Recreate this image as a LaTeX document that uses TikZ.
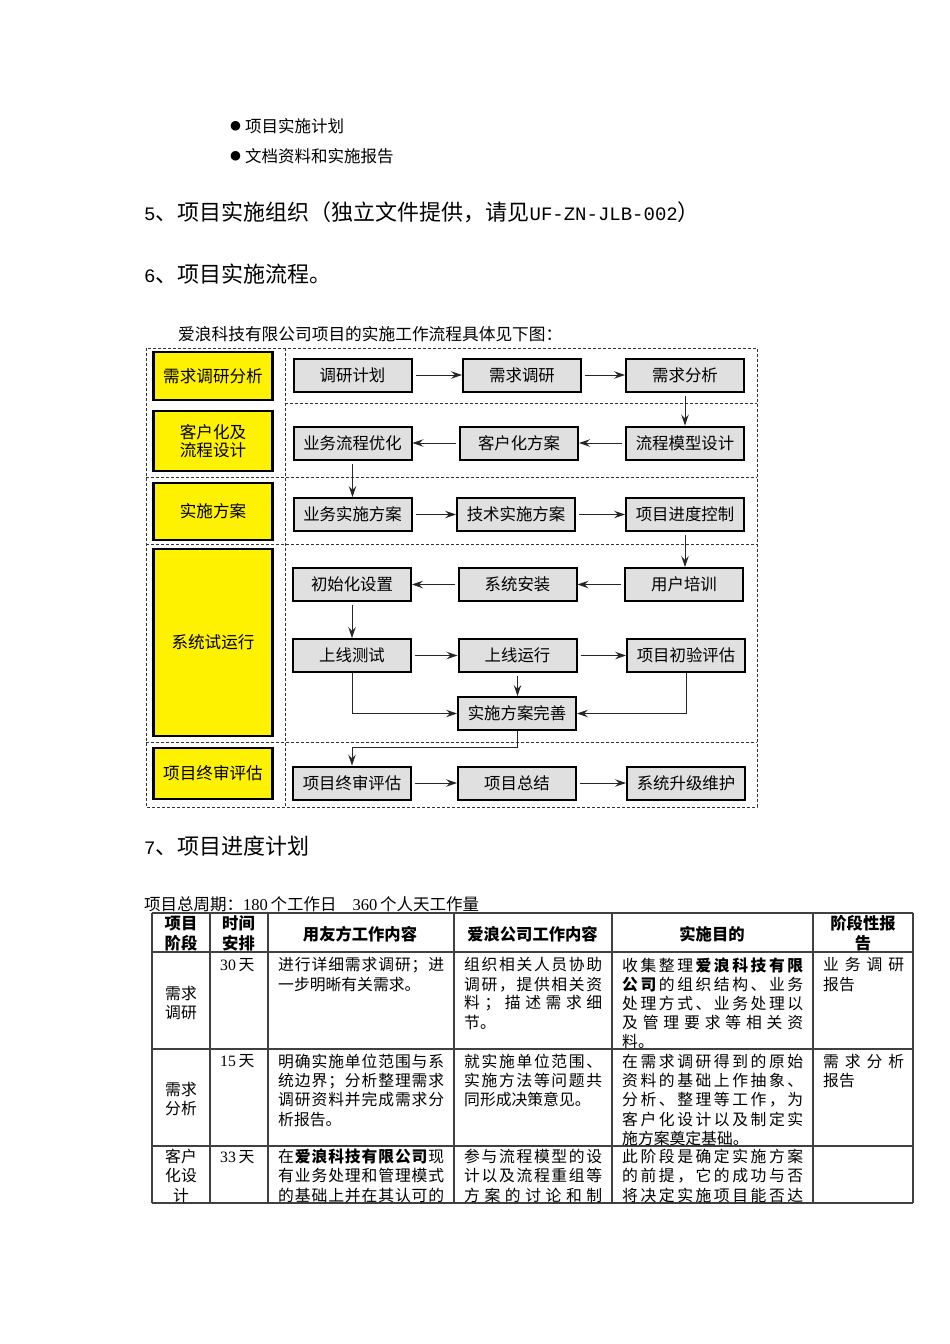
\documentclass[tikz,border=0pt]{standalone}
\usepackage{fontspec}
\setmainfont{Noto Sans CJK SC}
\newfontfamily\lmono{Liberation Mono}
\newfontfamily\lser{Liberation Serif}
\newfontfamily\djv{DejaVu Sans}
\usetikzlibrary{arrows.meta}
\newcommand\fsz[1]{\fontsize{#1}{#1}\selectfont}
\ExplSyntaxOn
\NewDocumentCommand\jl{mm}{\makebox[#1][s]{\tl_map_inline:nn{#2}{{##1}\hfil}\unskip}}
\ExplSyntaxOff
\tikzset{
  ybox/.style={draw=black,line width=2.4pt,fill=yellow,minimum width=119pt,inner sep=0pt,align=center,font=\fontsize{16.6}{17.5}\selectfont},
  gbox/.style={draw=black,line width=2pt,fill=black!12,minimum width=118pt,minimum height=33pt,inner sep=0pt,font=\fsz{16.4}},
  arr/.style={-{Stealth[length=11pt,width=7.5pt,inset=4pt]},line width=0.9pt,draw=black!85,shorten <=3pt},
  dline/.style={draw=black!80,line width=1pt,dash pattern=on 3pt off 2pt},
  tline/.style={draw=black!75,line width=1.3pt},
  txt/.style={anchor=west,inner sep=0pt},
  cell/.style={anchor=west,inner sep=0pt,font=\fsz{15.8}},
  ccell/.style={inner sep=0pt,font=\fsz{15.8}},
  hd/.style={inner sep=0pt,font=\fsz{16.3}\bfseries},
}
\begin{document}
\begin{tikzpicture}[x=1pt,y=-1pt]
\useasboundingbox (0,0) rectangle (950,1344);
\fill[white] (0,0) rectangle (950,1344);

% ---------- top text ----------
\node[txt,font=\djv\fsz{12.5}] (bul1) at (230,126) {●};
\node[txt,font=\fsz{16.5}] (item1) at (245,126) {项目实施计划};
\node[txt,font=\djv\fsz{12.5}] (bul2) at (230,156) {●};
\node[txt,font=\fsz{16.5}] (item2) at (245,156) {文档资料和实施报告};
\node[txt,font=\fsz{22}] (head5) at (144,212) {{\lmono\fsz{19}5}、项目实施组织（独立文件提供，请见{\lmono\fsz{19}UF-ZN-JLB-002}）};
\node[txt,font=\fsz{22}] (head6) at (144,274) {{\lmono\fsz{19}6}、项目实施流程。};
\node[txt,font=\fsz{16.7}] (intro) at (178,334) {爱浪科技有限公司项目的实施工作流程具体见下图：};

% ---------- flow chart frame ----------
\draw[dline] (146,348) rectangle (757,807);
\draw[dline] (285,348) -- (285,807);
\draw[dline] (285,403) -- (757,403);
\draw[dline] (146,477) -- (757,477);
\draw[dline] (146,544) -- (757,544);
\draw[dline] (146,742) -- (757,742);

% ---------- stage boxes ----------
\node[ybox,minimum height=48pt] (y1) at (213,376) {需求调研分析};
\node[ybox,minimum height=60pt] (y2) at (213,441) {客户化及\\流程设计};
\node[ybox,minimum height=57pt] (y3) at (213,511.5) {实施方案};
\node[ybox,minimum height=187pt] (y4) at (213,642.5) {系统试运行};
\node[ybox,minimum height=51pt] (y5) at (213,773.5) {项目终审评估};

% ---------- process boxes ----------
\node[gbox] (r1a) at (352.5,375) {调研计划};
\node[gbox] (r1b) at (522,375) {需求调研};
\node[gbox] (r1c) at (685,375) {需求分析};
\node[gbox] (r2a) at (352.5,443) {业务流程优化};
\node[gbox] (r2b) at (519,443) {客户化方案};
\node[gbox] (r2c) at (685,443) {流程模型设计};
\node[gbox] (r3a) at (352.5,514.5) {业务实施方案};
\node[gbox] (r3b) at (516,514.5) {技术实施方案};
\node[gbox] (r3c) at (685,514.5) {项目进度控制};
\node[gbox] (r4a) at (352,584.5) {初始化设置};
\node[gbox] (r4b) at (517.5,584.5) {系统安装};
\node[gbox] (r4c) at (684,584.5) {用户培训};
\node[gbox] (r5a) at (352,655.5) {上线测试};
\node[gbox] (r5b) at (517.5,655.5) {上线运行};
\node[gbox] (r5c) at (686,655.5) {项目初验评估};
\node[gbox] (r6) at (517,713.5) {实施方案完善};
\node[gbox] (r7a) at (352,783) {项目终审评估};
\node[gbox] (r7b) at (517,783) {项目总结};
\node[gbox] (r7c) at (686,783) {系统升级维护};
\coordinate (k) at (352,747);

% ---------- connectors ----------
\draw[arr] (r1a) -- (r1b);
\draw[arr] (r1b) -- (r1c);
\draw[arr] (r1c.south) -- (r1c.south |- r2c.north);
\draw[arr] (r2c) -- (r2b);
\draw[arr] (r2b) -- (r2a);
\draw[arr] (r2a.south) -- (r2a.south |- r3a.north);
\draw[arr] (r3a) -- (r3b);
\draw[arr] (r3b) -- (r3c);
\draw[arr] (r3c.south) -- (r3c.south |- r4c.north);
\draw[arr] (r4c) -- (r4b);
\draw[arr] (r4b) -- (r4a);
\draw[arr] (r4a.south) -- (r4a.south |- r5a.north);
\draw[arr] (r5a) -- (r5b);
\draw[arr] (r5b) -- (r5c);
\draw[arr] (r5b.south) -- (r5b.south |- r6.north);
\draw[arr,shorten <=0pt] (r5a.south) |- (r6.west);
\draw[arr,shorten <=0pt] (r5c.south) |- (r6.east);
\draw[arr,shorten <=0pt] (r6.south) |- (k) -- (r7a.north);
\draw[arr] (r7a) -- (r7b);
\draw[arr] (r7b) -- (r7c);

% ---------- section 7 ----------
\node[txt,font=\fsz{22}] (head7) at (144,846) {{\lmono\fsz{19}7}、项目进度计划};
\node[txt,font=\fsz{16.5}] (period) at (144,904) {项目总周期：{\lser 180}\,个工作日\hspace{16pt}{\lser 360}\,个人天工作量};

% ---------- table grid ----------
\foreach \yy in {913,952,1049,1146,1203} \draw[tline] (152,\yy) -- (913,\yy);
\foreach \xx in {152,210,268,454,612,813,913} \draw[tline] (\xx,913) -- (\xx,1203);

% header
\node[hd] (th1a) at (181,923.5) {项目};
\node[hd] (th1b) at (181,943) {阶段};
\node[hd] (th2a) at (238.5,923.5) {时间};
\node[hd] (th2b) at (238.5,943) {安排};
\node[hd] (th3) at (360,934) {用友方工作内容};
\node[hd] (th4) at (532.5,934) {爱浪公司工作内容};
\node[hd] (th5) at (712,934) {实施目的};
\node[hd] (th6a) at (863,923.5) {阶段性报};
\node[hd] (th6b) at (863,943) {告};

\begin{scope}
\clip (152,952) rectangle (913,1202);
% row 1
\node[ccell] (a1a) at (181,993.3) {需求};
\node[ccell] (a1b) at (181,1012.7) {调研};
\node[cell] (b1) at (220,965) {{\lser 30}\,天};
\node[cell] (c1a) at (278,965) {\jl{166pt}{进行详细需求调研；进}};
\node[cell] (c1b) at (278,984.2) {一步明晰有关需求。};
\node[cell] (d1a) at (464,965) {\jl{138pt}{组织相关人员协助}};
\node[cell] (d1b) at (464,984.2) {\jl{138pt}{调研，提供相关资}};
\node[cell] (d1c) at (464,1003.4) {\jl{138pt}{料；描述需求细}};
\node[cell] (d1d) at (464,1022.6) {节。};
\node[cell] (e1a) at (622,965) {\jl{181pt}{收集整理{\bfseries 爱}{\bfseries 浪}{\bfseries 科}{\bfseries 技}{\bfseries 有}{\bfseries 限}}};
\node[cell] (e1b) at (622,984.2) {\jl{181pt}{{\bfseries 公}{\bfseries 司}的组织结构、业务}};
\node[cell] (e1c) at (622,1003.4) {\jl{181pt}{处理方式、业务处理以}};
\node[cell] (e1d) at (622,1022.6) {\jl{181pt}{及管理要求等相关资}};
\node[cell] (e1e) at (622,1041.8) {料。};
\node[cell] (f1a) at (823,965) {\jl{81pt}{业务调研}};
\node[cell] (f1b) at (823,984.2) {报告};
% row 2
\node[ccell] (a2a) at (181,1090) {需求};
\node[ccell] (a2b) at (181,1109) {分析};
\node[cell] (b2) at (220,1061.5) {{\lser 15}\,天};
\node[cell] (c2a) at (278,1061.5) {\jl{166pt}{明确实施单位范围与系}};
\node[cell] (c2b) at (278,1080.7) {\jl{166pt}{统边界；分析整理需求}};
\node[cell] (c2c) at (278,1099.9) {\jl{166pt}{调研资料并完成需求分}};
\node[cell] (c2d) at (278,1119.1) {析报告。};
\node[cell] (d2a) at (464,1061.5) {\jl{138pt}{就实施单位范围、}};
\node[cell] (d2b) at (464,1080.7) {\jl{138pt}{实施方法等问题共}};
\node[cell] (d2c) at (464,1099.9) {同形成决策意见。};
\node[cell] (e2a) at (622,1061.5) {\jl{181pt}{在需求调研得到的原始}};
\node[cell] (e2b) at (622,1080.7) {\jl{181pt}{资料的基础上作抽象、}};
\node[cell] (e2c) at (622,1099.9) {\jl{181pt}{分析、整理等工作，为}};
\node[cell] (e2d) at (622,1119.1) {\jl{181pt}{客户化设计以及制定实}};
\node[cell] (e2e) at (622,1138.3) {施方案奠定基础。};
\node[cell] (f2a) at (823,1061.5) {\jl{81pt}{需求分析}};
\node[cell] (f2b) at (823,1080.7) {报告};
% row 3
\node[ccell] (a3a) at (181,1156.7) {客户};
\node[ccell] (a3b) at (181,1175.9) {化设};
\node[ccell] (a3c) at (181,1195.1) {计};
\node[cell] (b3) at (220,1156.7) {{\lser 33}\,天};
\node[cell] (c3a) at (278,1156.7) {\jl{166pt}{在{\bfseries 爱}{\bfseries 浪}{\bfseries 科}{\bfseries 技}{\bfseries 有}{\bfseries 限}{\bfseries 公}{\bfseries 司}现}};
\node[cell] (c3b) at (278,1175.9) {\jl{166pt}{有业务处理和管理模式}};
\node[cell] (c3c) at (278,1195.1) {\jl{166pt}{的基础上并在其认可的}};
\node[cell] (d3a) at (464,1156.7) {\jl{138pt}{参与流程模型的设}};
\node[cell] (d3b) at (464,1175.9) {\jl{138pt}{计以及流程重组等}};
\node[cell] (d3c) at (464,1195.1) {\jl{138pt}{方案的讨论和制}};
\node[cell] (e3a) at (622,1156.7) {\jl{181pt}{此阶段是确定实施方案}};
\node[cell] (e3b) at (622,1175.9) {\jl{181pt}{的前提，它的成功与否}};
\node[cell] (e3c) at (622,1195.1) {\jl{181pt}{将决定实施项目能否达}};
\end{scope}
\end{tikzpicture}
\end{document}
